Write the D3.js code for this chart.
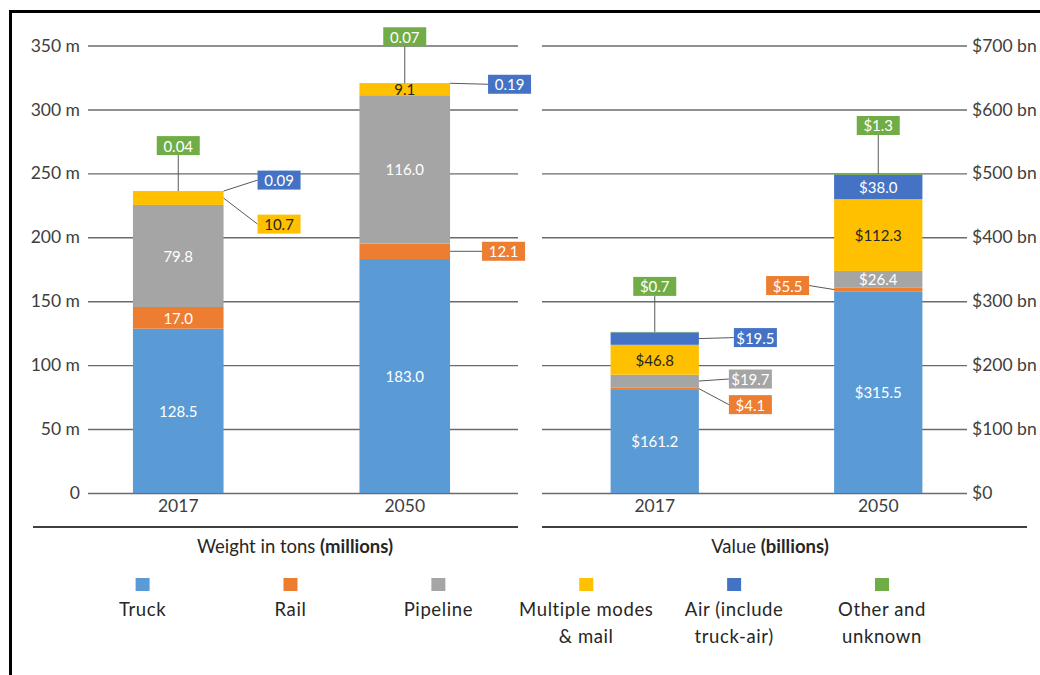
<!DOCTYPE html>
<html>
<head>
<meta charset="utf-8">
<script src="https://cdn.jsdelivr.net/npm/d3@7"></script>
<style>
  html, body { margin: 0; padding: 0; background: #ffffff; }
  svg { display: block; font-family: Lato, "Open Sans", sans-serif; }
</style>
</head>
<body>
<svg id="chart" width="1040" height="675"></svg>
<script>
// ---- data ----------------------------------------------------------------
const years = ["2017", "2050"];
const modes = ["Truck", "Rail", "Pipeline", "Multiple modes & mail", "Air (include truck-air)", "Other and unknown"];
const legendLines = [["Truck"], ["Rail"], ["Pipeline"], ["Multiple modes", "& mail"], ["Air (include", "truck-air)"], ["Other and", "unknown"]];

// Weight in tons (millions), by mode
const weight2017 = [128.5, 17.0, 79.8, 10.7, 0.09, 0.04];
const weight2050 = [183.0, 12.1, 116.0, 9.1, 0.19, 0.07];
// Value (billions of dollars), by mode
const value2017 = [161.2, 4.1, 19.7, 46.8, 19.5, 0.7];
const value2050 = [315.5, 5.5, 26.4, 112.3, 38.0, 1.3];

const weightTicks = [0, 50, 100, 150, 200, 250, 300, 350];
const weightTickLabels = ["0", "50 m", "100 m", "150 m", "200 m", "250 m", "300 m", "350 m"];
const valueTicks = [0, 100, 200, 300, 400, 500, 600, 700];
const valueTickLabels = ["$0", "$100 bn", "$200 bn", "$300 bn", "$400 bn", "$500 bn", "$600 bn", "$700 bn"];

// ---- styling ---------------------------------------------------------------
const colors = ["#5B9BD5", "#ED7D31", "#A5A5A5", "#FFC000", "#4472C4", "#70AD47"];
const darkText = "#262626";
const axisText = "#404040";
const gridColor = "#6b6b6b";
const leaderColor = "#595959";

// Label placement per panel/year/mode: "in" = centred inside the segment,
// otherwise a callout box offset (px) from an anchor on the bar edge.
//   side: "top" (above bar centre), "right" / "left" (bar edge at segment middle, or top)
const weightPlacement = {
  "2017": ["in", "in", "in",
           {side: "right", dx: 34, dy: 26},
           {side: "right", at: "top", dx: 34, dy: -11},
           {side: "top", dy: -36}],
  "2050": ["in",
           {side: "right", dx: 32, dy: 0},
           "in", "in",
           {side: "right", at: "top", dx: 38, dy: 1},
           {side: "top", dy: -37}]
};
const valuePlacement = {
  "2017": ["in",
           {side: "right", dx: 30, dy: 16},
           {side: "right", dx: 30, dy: -2},
           "in",
           {side: "right", dx: 35, dy: -1},
           {side: "top", dy: -36}],
  "2050": ["in",
           {side: "left", dx: -25, dy: -4},
           "in", "in", "in",
           {side: "top", dy: -39}]
};

const fmtWeight = v => v < 1 ? v.toFixed(2) : v.toFixed(1);
const fmtValue = v => "$" + v.toFixed(1);

const svg = d3.select("#chart");

// outer frame (left and top edges)
svg.append("path")
  .attr("d", "M10.5,675 L10.5,11.5 L1040,11.5")
  .attr("fill", "none")
  .attr("stroke", "#000")
  .attr("stroke-width", 3);

const yTop = 45.5, yBottom = 493;
const boxW = 43, boxH = 19;

function drawPanel(opts) {
  const g = svg.append("g");
  const y = d3.scaleLinear().domain([0, 350 * opts.unit]).range([yBottom, yTop]);
  const x = d3.scaleBand().domain(years).range(opts.bandRange).padding(0);
  const barW = x.bandwidth() * opts.barFrac;

  // axis + gridlines
  const axis = (opts.side === "left" ? d3.axisLeft(y) : d3.axisRight(y))
    .tickValues(opts.ticks)
    .tickFormat((d, i) => opts.tickLabels[i])
    .tickSize(-(opts.gridRange[1] - opts.gridRange[0]))
    .tickPadding(opts.side === "left" ? 8 : 5);
  const ax = g.append("g")
    .attr("transform", `translate(${opts.side === "left" ? opts.gridRange[0] : opts.gridRange[1]},0)`)
    .call(axis);
  ax.select(".domain").remove();
  ax.selectAll(".tick line").attr("stroke", gridColor).attr("stroke-width", 1.4);
  ax.selectAll(".tick text")
    .attr("fill", axisText)
    .style("font-size", "17.5px")
    .style("font-family", "Lato, sans-serif");

  // category labels
  const xa = g.append("g")
    .attr("transform", `translate(0,${yBottom})`)
    .call(d3.axisBottom(x).tickSize(0).tickPadding(7));
  xa.select(".domain").remove();
  xa.selectAll("text")
    .attr("fill", axisText)
    .style("font-size", "17.5px")
    .style("font-family", "Lato, sans-serif");

  // stacked bars
  years.forEach((yr, yi) => {
    const vals = opts.series[yi];
    const stack = d3.cumsum(vals);
    const cx = x(yr) + x.bandwidth() / 2;
    const x0 = cx - barW / 2, x1 = cx + barW / 2;
    const total = stack[stack.length - 1];

    vals.forEach((v, i) => {
      const base = i === 0 ? 0 : stack[i - 1];
      g.append("rect")
        .attr("x", x0)
        .attr("width", barW)
        .attr("y", y(base + v))
        .attr("height", Math.max(0, y(base) - y(base + v)))
        .attr("fill", colors[i]);
    });

    vals.forEach((v, i) => {
      const base = i === 0 ? 0 : stack[i - 1];
      const mid = y(base + v / 2);
      const place = opts.placement[yr][i];
      const label = opts.fmt(v);
      const txtColor = i === 3 ? darkText : "#ffffff";
      if (place === "in") {
        g.append("text")
          .attr("x", cx).attr("y", mid)
          .attr("text-anchor", "middle")
          .attr("dominant-baseline", "central")
          .attr("fill", txtColor)
          .style("font-size", "15px")
          .text(label);
        return;
      }
      let ax0, ay0, bx, by, lx1, ly1;
      if (place.side === "top") {
        ax0 = cx; ay0 = y(total);
        bx = cx - boxW / 2; by = ay0 + place.dy - boxH;
        lx1 = cx; ly1 = ay0 + place.dy;
      } else if (place.side === "right") {
        ax0 = x1; ay0 = place.at === "top" ? y(total) : mid;
        bx = ax0 + place.dx; by = ay0 + place.dy - boxH / 2;
        lx1 = bx; ly1 = by + boxH / 2;
      } else {
        ax0 = x0; ay0 = place.at === "top" ? y(total) : mid;
        bx = ax0 + place.dx - boxW; by = ay0 + place.dy - boxH / 2;
        lx1 = bx + boxW; ly1 = by + boxH / 2;
      }
      g.append("line")
        .attr("x1", ax0).attr("y1", ay0)
        .attr("x2", lx1).attr("y2", ly1)
        .attr("stroke", leaderColor).attr("stroke-width", 1);
      g.append("rect")
        .attr("x", bx).attr("y", by)
        .attr("width", boxW).attr("height", boxH)
        .attr("fill", colors[i]);
      g.append("text")
        .attr("x", bx + boxW / 2).attr("y", by + boxH / 2)
        .attr("text-anchor", "middle")
        .attr("dominant-baseline", "central")
        .attr("fill", txtColor)
        .style("font-size", "15px")
        .text(label);
    });
  });

  // separator rule and panel title
  g.append("line")
    .attr("x1", opts.ruleRange[0]).attr("x2", opts.ruleRange[1])
    .attr("y1", 527).attr("y2", 527)
    .attr("stroke", "#404040").attr("stroke-width", 2);
  const t = g.append("text")
    .attr("x", opts.titleX).attr("y", 553)
    .attr("text-anchor", "middle")
    .attr("fill", darkText)
    .style("font-size", "18.5px");
  t.append("tspan").text(opts.title[0]);
  t.append("tspan").attr("font-weight", "bold").text(opts.title[1]);
}

drawPanel({
  side: "left", unit: 1,
  ticks: weightTicks, tickLabels: weightTickLabels,
  series: [weight2017, weight2050],
  bandRange: [65, 518], barFrac: 0.4,
  gridRange: [88, 518], ruleRange: [33, 518],
  placement: weightPlacement, fmt: fmtWeight,
  title: ["Weight in tons ", "(millions)"], titleX: 295
});

drawPanel({
  side: "right", unit: 2,
  ticks: valueTicks, tickLabels: valueTickLabels,
  series: [value2017, value2050],
  bandRange: [543, 990], barFrac: 0.395,
  gridRange: [542, 967], ruleRange: [542, 1027],
  placement: valuePlacement, fmt: fmtValue,
  title: ["Value ", "(billions)"], titleX: 770
});

// legend
const legendX = d3.scalePoint().domain(modes).range([142.6, 882]);
const lg = svg.append("g");
modes.forEach((m, i) => {
  const cx = legendX(m);
  lg.append("rect")
    .attr("x", cx - 7).attr("y", 578)
    .attr("width", 14).attr("height", 13)
    .attr("fill", colors[i]);
  legendLines[i].forEach((line, j) => {
    lg.append("text")
      .attr("x", cx).attr("y", 616 + j * 27)
      .attr("text-anchor", "middle")
      .attr("fill", darkText)
      .style("font-size", "18.5px")
      .style("letter-spacing", "0.6px")
      .text(line);
  });
});
</script>
</body>
</html>
